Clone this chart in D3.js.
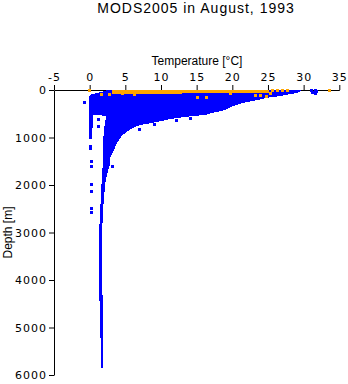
<!DOCTYPE html>
<html>
<head>
<meta charset="utf-8">
<script src="https://cdn.jsdelivr.net/npm/d3@7"></script>
<style>
  html, body { margin: 0; padding: 0; background: #fff; }
  svg { display: block; }
  .tick text { font-family: "DejaVu Sans", sans-serif; font-size: 11px; letter-spacing: 1px; fill: #000; }
  .label { font-family: "Liberation Sans", Arial, sans-serif; fill: #000; }
</style>
</head>
<body>
<script>
const title = 'MODS2005 in August, 1993'
const xLabel = 'Temperature [°C]'
const yLabel = 'Depth [m]'

const xTicks = [-5, 0, 5, 10, 15, 20, 25, 30, 35]
const yTicks = [0, 1000, 2000, 3000, 4000, 5000, 6000]

// envelope of the dense blue cloud
const cloudDepth = [0, 60, 90, 130, 160, 210, 270, 340, 420, 480, 525, 540, 565, 610, 675, 740, 780, 840, 950, 990, 1115, 1265, 1410, 1580, 1895, 2315, 2695, 3160, 4000, 4630, 5160, 5260, 5850]
const cloudMinT = [2.5, 1.2, 0.2, -0.1, -0.1, -0.1, -0.1, -0.1, -0.1, -0.1, -0.1, 2.2, 2.3, 2.25, 2.15, 2.1, 2.05, 2.0, 1.95, 1.93, 1.9, 1.85, 1.83, 1.83, 1.69, 1.55, 1.41, 1.31, 1.31, 1.41, 1.48, 1.55, 1.55]
const cloudMaxT = [29.7, 29.2, 28.0, 26.7, 25.0, 23.6, 21.6, 20.0, 19.0, 17.3, 16.2, 15.2, 13.5, 11.3, 9.4, 7.0, 6.3, 5.6, 4.6, 4.4, 3.8, 3.4, 2.9, 2.8, 2.25, 1.97, 1.83, 1.7, 1.7, 1.9, 1.93, 1.93, 1.93]

// cold column near 0 °C
const columnDepth = [525, 700, 900, 1040]
const columnMinT = [-0.1, -0.1, -0.1, -0.05]
const columnMaxT = [0.5, 0.45, 0.35, 0.3]

// scattered blue profiles [temperature, depth]
const blueDots = [
  [-0.7, 253], [0.15, 1194], [0.15, 1242], [0.2, 1495], [0.2, 1600], [0.2, 1994],
  [0.2, 2141], [0.2, 2505], [0.2, 2583], [3.2, 1600], [12.2, 632], [14.1, 610],
  [16.2, 495], [9.05, 716], [6.93, 828], [1.3, 617], [1.17, 772],
  [31.1, 20], [31.6, 20], [31.8, 40], [31.2, 60], [31.7, 70]
]

// orange surface band and points
const bandT = [3.2, 8, 12, 16, 20, 24, 25.1]
const bandTop = [0, 0, 0, 0, 0, 0, 0]
const bandBottom = [85, 85, 75, 70, 65, 65, 65]
const orangeDots = [
  [0, 0], [1.6, 90], [2.85, 90], [4.54, 84], [5.34, 63], [6.28, 90],
  [15.18, 154], [16.45, 154], [19.7, 84], [23.2, 110], [24.0, 115], [24.8, 141],
  [25.3, 70], [25.7, 0], [26.4, 21], [27.1, 0], [27.8, 21], [33.6, 15]
]

const width = 348
const height = 384
const blue = '#0000ff'
const orange = '#ffa500'

const svg = d3.select('body').append('svg')
  .attr('width', width)
  .attr('height', height)

const x = d3.scaleLinear().domain([-5, 35]).range([54, 339.3])
const y = d3.scaleLinear().domain([0, 6000]).range([90, 375])

svg.append('g')
  .attr('transform', `translate(0,${y(0)})`)
  .call(d3.axisTop(x).tickValues(xTicks).tickFormat(d => String(d))
    .tickSize(5).tickSizeOuter(0).tickPadding(4.5))
  .call(styleAxis)

svg.append('g')
  .attr('transform', `translate(${x(-5)},0)`)
  .call(d3.axisLeft(y).tickValues(yTicks).tickFormat(d => String(d))
    .tickSize(5).tickSizeOuter(0).tickPadding(2))
  .call(styleAxis)

const plot = svg.append('g').attr('shape-rendering', 'crispEdges')

drawBand(plot, cloudDepth, cloudMinT, cloudMaxT, blue)
drawBand(plot, columnDepth, columnMinT, columnMaxT, blue)
drawDots(plot, blueDots, blue)

plot.append('path')
  .datum(bandT.map((t, i) => [t, bandTop[i], bandBottom[i]]))
  .attr('fill', orange)
  .attr('d', d3.area().x(d => x(d[0])).y0(d => y(d[1])).y1(d => y(d[2])))

drawDots(plot, orangeDots, orange)

svg.append('text')
  .attr('class', 'label')
  .attr('x', 196)
  .attr('y', 13)
  .attr('text-anchor', 'middle')
  .style('font-size', '14px')
  .style('letter-spacing', '1px')
  .text(title)

svg.append('text')
  .attr('class', 'label')
  .attr('x', 197)
  .attr('y', 65)
  .attr('text-anchor', 'middle')
  .style('font-size', '12px')
  .text(xLabel)

svg.append('text')
  .attr('class', 'label')
  .attr('transform', 'translate(11.5,232.5) rotate(-90)')
  .attr('text-anchor', 'middle')
  .style('font-size', '12px')
  .text(yLabel)

function drawBand (g, depths, minT, maxT, color) {
  const rows = depths.map((d, i) => ({ d, lo: minT[i], hi: maxT[i] }))
  g.append('path')
    .datum(rows)
    .attr('fill', color)
    .attr('d', d3.area()
      .y(r => y(r.d))
      .x0(r => x(r.lo))
      .x1(r => x(r.hi)))
}

function drawDots (g, dots, color) {
  g.append('g')
    .selectAll('rect')
    .data(dots)
    .join('rect')
    .attr('x', d => x(d[0]) - 1.5)
    .attr('y', d => y(d[1]) - 1.5)
    .attr('width', 3)
    .attr('height', 3)
    .attr('fill', color)
}

function styleAxis (g) {
  g.select('.domain').attr('stroke', '#000')
  g.selectAll('.tick line').attr('stroke', '#000')
  g.selectAll('.tick text').attr('fill', '#000')
}
</script>
</body>
</html>
